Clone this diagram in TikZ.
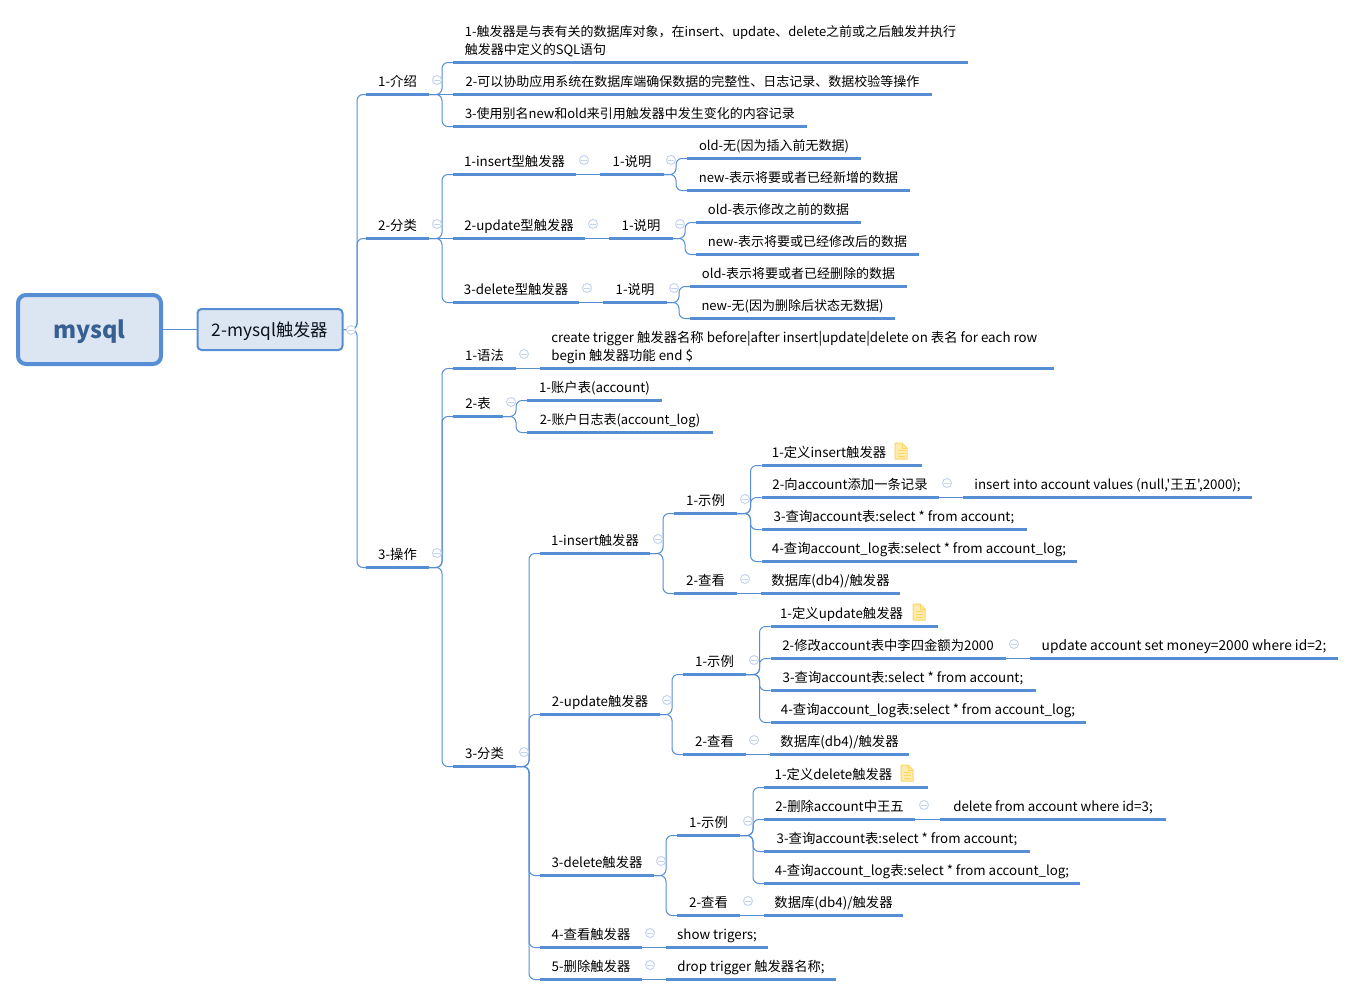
\documentclass[tikz,border=0pt]{standalone}
\usepackage{fontspec}
\setmainfont{Noto Sans CJK SC}[Ligatures=TeXOff]
\definecolor{lineblue}{HTML}{558ED5}
\definecolor{boxfill}{HTML}{DCE6F2}
\definecolor{rootink}{HTML}{376092}
\definecolor{foldblue}{HTML}{C6D4F0}
\tikzset{
  under/.style={draw=lineblue,line width=2.25pt},
  topic/.style={anchor=south west,inner xsep=0pt,inner ysep=4pt,outer sep=0pt,
    minimum width=#1*0.75pt,text depth=2.25pt,text height=7.5pt,
    font=\fontsize{10}{13.5}\selectfont,
    append after command={(\tikzlastnode.south west) edge[under] (\tikzlastnode.south east)}},
  twolines/.style={align=left,text height=21pt},
  narrow/.style={font=\fontsize{9.75}{13.5}\selectfont},
  wider/.style={font=\fontsize{10.3}{13.5}\selectfont},
  link/.style={draw=lineblue,line width=.75pt,rounded corners=4.5pt},
  rootbox/.style={draw=lineblue,fill=boxfill,line width=3pt,rounded corners=6pt,
    minimum width=107.25pt,minimum height=51.75pt,text=rootink,text height=15pt,text depth=2.2pt,
    inner sep=0pt,font=\fontsize{17.6}{20}\selectfont\bfseries},
  subjectbox/.style={draw=lineblue,fill=boxfill,line width=1.5pt,rounded corners=3pt,
    minimum width=108.75pt,minimum height=30.75pt,text=black!80!rootink,text height=12.5pt,text depth=2pt,
    inner sep=0pt,font=\fontsize{13}{16}\selectfont},
  fold/.style={circle,draw=foldblue,fill=white,line width=.75pt,inner sep=0pt,minimum size=6.75pt,
    path picture={\draw[foldblue,line width=.75pt] ([xshift=1.2pt]path picture bounding box.west) -- ([xshift=-1.2pt]path picture bounding box.east);}},
  notefile/.style={draw=yellow!50!orange!60,fill=yellow!55!orange!30,line width=.75pt,line join=round},
}
\begin{document}
\begin{tikzpicture}[x=0.75pt,y=-0.75pt]
\useasboundingbox (0,0) rectangle (1356,996);
\node[rootbox] (mysql) at (89.5,329.5) {mysql};
\node[subjectbox] (subject) at (270,329.5) {2-mysql触发器};
% first level
\node[topic=63] (intro) at (366,94.5) {1-介绍};
\node[topic=63] (kinds) at (366,238.5) {2-分类};
\node[topic=63] (ops) at (366,567.5) {3-操作};
% intro
\node[topic=515,twolines,narrow] (introa) at (453,62.5) {1-触发器是与表有关的数据库对象，在insert、update、delete之前或之后触发并执行\\触发器中定义的SQL语句};
\node[topic=479,narrow] (introb) at (453,94.5) {2-可以协助应用系统在数据库端确保数据的完整性、日志记录、数据校验等操作};
\node[topic=354,narrow] (introc) at (453,126.5) {3-使用别名new和old来引用触发器中发生变化的内容记录};
% kinds
\node[topic=123] (kindins) at (453,174.5) {1-insert型触发器};
\node[topic=64] (kindinsn) at (600,174.5) {1-说明};
\node[topic=174,narrow] (kindinso) at (687,158.5) {old-无(因为插入前无数据)};
\node[topic=223,narrow] (kindinsw) at (687,190.5) {new-表示将要或者已经新增的数据};
\node[topic=132] (kindupd) at (453,238.5) {2-update型触发器};
\node[topic=64] (kindupdn) at (609,238.5) {1-说明};
\node[topic=165,narrow] (kindupdo) at (696,222.5) {old-表示修改之前的数据};
\node[topic=223,narrow] (kindupdw) at (696,254.5) {new-表示将要或已经修改后的数据};
\node[topic=126] (kinddel) at (453,302.5) {3-delete型触发器};
\node[topic=64] (kinddeln) at (603,302.5) {1-说明};
\node[topic=217,narrow] (kinddelo) at (690,286.5) {old-表示将要或者已经删除的数据};
\node[topic=205,narrow] (kinddelw) at (690,318.5) {new-无(因为删除后状态无数据)};
% ops
\node[topic=63] (syntax) at (453,368.5) {1-语法};
\node[topic=514,twolines] (syntaxt) at (540,368.5) {create trigger 触发器名称 before|after insert|update|delete on 表名 for each row\hspace*{4pt}\\begin 触发器功能 end \$};
\node[topic=50] (tables) at (453,416.5) {2-表};
\node[topic=135] (tablea) at (527,400.5) {1-账户表(account)};
\node[topic=186,narrow] (tableb) at (527,432.5) {2-账户日志表(account\_log)};
\node[topic=63] (sorts) at (453,766.5) {3-分类};
% insert
\node[topic=110] (ins) at (540,553.5) {1-insert触发器};
\node[topic=63] (insex) at (674,513.5) {1-示例};
\node[topic=160] (insa) at (761.5,465.5) {1-定义insert触发器\hspace*{18.75pt}};
\node[topic=177] (insb) at (761.5,497.5) {2-向account添加一条记录};
\node[topic=289] (insbt) at (963,497.5) {insert into account values (null,'王五',2000);};
\node[topic=265] (insc) at (761.5,529.5) {3-查询account表:select * from account;};
\node[topic=315] (insd) at (761.5,561.5) {4-查询account\_log表:select * from account\_log;};
\node[topic=63] (insview) at (674,593.5) {2-查看};
\node[topic=139] (insviewt) at (761,593.5) {数据库(db4)/触发器};
% update
\node[topic=120] (upd) at (540,714.5) {2-update触发器};
\node[topic=63] (updex) at (683,674.5) {1-示例};
\node[topic=167] (upda) at (770.5,626.5) {1-定义update触发器\hspace*{18.75pt}};
\node[topic=235] (updb) at (770.5,658.5) {2-修改account表中李四金额为2000};
\node[topic=308,wider] (updbt) at (1030,658.5) {update account set money=2000 where id=2;};
\node[topic=265] (updc) at (770.5,690.5) {3-查询account表:select * from account;};
\node[topic=315] (updd) at (770.5,722.5) {4-查询account\_log表:select * from account\_log;};
\node[topic=63] (updview) at (683,754.5) {2-查看};
\node[topic=139] (updviewt) at (770,754.5) {数据库(db4)/触发器};
% delete
\node[topic=114] (del) at (540,875.5) {3-delete触发器};
\node[topic=63] (delex) at (677,835.5) {1-示例};
\node[topic=164] (dela) at (764,787.5) {1-定义delete触发器\hspace*{18.75pt}};
\node[topic=151] (delb) at (764,819.5) {2-删除account中王五};
\node[topic=226] (delbt) at (940,819.5) {delete from account where id=3;};
\node[topic=266] (delc) at (764,851.5) {3-查询account表:select * from account;};
\node[topic=316] (deld) at (764,883.5) {4-查询account\_log表:select * from account\_log;};
\node[topic=63] (delview) at (677,915.5) {2-查看};
\node[topic=139] (delviewt) at (764,915.5) {数据库(db4)/触发器};
% show and drop
\node[topic=102] (show) at (540,947.5) {4-查看触发器};
\node[topic=102] (showt) at (666,947.5) {show trigers;};
\node[topic=102] (drop) at (540,979.5) {5-删除触发器};
\node[topic=170] (dropt) at (666,979.5) {drop trigger 触发器名称;};
% connectors
\draw[link] (mysql.east) -- (subject.west);
\foreach \a in {intro,kinds,ops}
  \draw[link] (subject.east) -| ([xshift=-6.75pt]\a.south west) -- (\a.south west);
\foreach \a/\b in {intro/introa,intro/introc,kinds/kindins,kinds/kinddel,kindinsn/kindinso,kindinsn/kindinsw,
  kindupdn/kindupdo,kindupdn/kindupdw,kinddeln/kinddelo,kinddeln/kinddelw,ops/syntax,ops/tables,ops/sorts,
  tables/tablea,tables/tableb,sorts/ins,sorts/upd,sorts/del,sorts/show,sorts/drop,
  ins/insex,ins/insview,insex/insa,insex/insb,insex/insc,insex/insd,
  upd/updex,upd/updview,updex/upda,updex/updb,updex/updc,updex/updd,
  del/delex,del/delview,delex/dela,delex/delb,delex/delc,delex/deld}
  \draw[link] (\a.south east) -| ([xshift=-8.25pt]\b.south west) -- (\b.south west);
\foreach \a/\b in {intro/introb,kinds/kindupd,kindins/kindinsn,kindupd/kindupdn,kinddel/kinddeln,
  syntax/syntaxt,insb/insbt,insview/insviewt,updb/updbt,updview/updviewt,delb/delbt,delview/delviewt,
  show/showt,drop/dropt}
  \draw[link] (\a.south east) -- (\b.south west);
% collapse marks
\foreach \x/\y [count=\i] in {351/330,437/80,437/224,437/553,584/160,671/160,593/224,680/224,587/288,674/288,
  524/354,511/402,524/752,658/539,745/499,947/483,745/579,667/700,754/660,1014/644,754/740,
  661/861,748/821,924/805,748/901,650/933,650/965}
  \node[fold] (fold\i) at (\x,\y) {};
% note icons
\foreach \x/\y in {895/443,913/604,901/765} {
  \begin{scope}[shift={(\x,\y)}]
  \draw[notefile] (0,0) -- (7,0) -- (12,5) -- (12,16) -- (0,16) -- cycle;
  \draw[notefile,fill=none] (7,0) -- (7,5) -- (12,5) (2.5,7) -- (9.5,7) (2.5,10) -- (9.5,10) (2.5,13) -- (9.5,13);
  \end{scope}
}
\end{tikzpicture}
\end{document}
